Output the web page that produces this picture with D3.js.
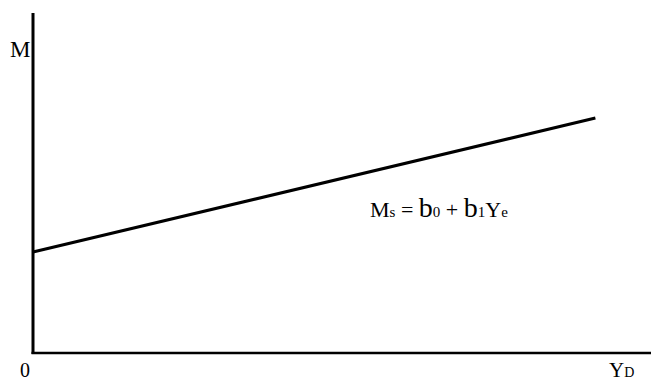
<!DOCTYPE html>
<html><head><meta charset="utf-8">
<script src="https://cdn.jsdelivr.net/npm/d3@7"></script>
<style>body{margin:0;background:#fff}svg{display:block}text{font-family:"Liberation Serif","DejaVu Serif",serif;fill:#000}</style>
</head><body>
<script>
// Data
const lineX = [0, 91];
const lineY = [29.7, 69.1];
const xDomain = [0, 100];
const yDomain = [0, 100];
const yAxisLabel = "M";
const xAxisLabel = ["Y", "D"];
const originLabel = "0";
const equation = [["M",""],["s","sub"],[" = ",""],["b","big"],["0","sub"],[" + ",""],["b","big"],["1","sub"],["Y",""],["e","sub"]];

const W = 651, H = 382;
const svg = d3.select("body").append("svg").attr("width", W).attr("height", H);
const x = d3.scaleLinear().domain(xDomain).range([33, 651]);
const y = d3.scaleLinear().domain(yDomain).range([353, 13]);

// axes
svg.append("line").attr("x1", x(0)).attr("x2", x(0)).attr("y1", y(100)).attr("y2", y(0)+1)
  .attr("stroke", "#000").attr("stroke-width", 3);
svg.append("line").attr("x1", x(0)-1.5).attr("x2", x(100)).attr("y1", y(0)).attr("y2", y(0))
  .attr("stroke", "#000").attr("stroke-width", 2.5);

// line
svg.append("path").datum(lineX.map((d,i)=>[d, lineY[i]]))
  .attr("d", d3.line().x(d=>x(d[0])).y(d=>y(d[1])))
  .attr("fill","none").attr("stroke","#000").attr("stroke-width",3);

// labels
svg.append("text").attr("x", 10).attr("y", 57).attr("font-size", 23).text(yAxisLabel);
svg.append("text").attr("x", 20).attr("y", 377).attr("font-size", 20).text(originLabel);
const xl = svg.append("text").attr("x", 609).attr("y", 377).attr("font-size", 21);
xl.append("tspan").text(xAxisLabel[0]);
xl.append("tspan").attr("font-size", 14).text(xAxisLabel[1]);

const eq = svg.append("text").attr("x", 370).attr("y", 217).attr("font-size", 22);
equation.forEach(([t, k]) => {
  const ts = eq.append("tspan").text(t);
  if (k === "sub") ts.attr("font-size", 15);
  if (k === "big") ts.attr("font-size", 28);
});
</script>
</body></html>
